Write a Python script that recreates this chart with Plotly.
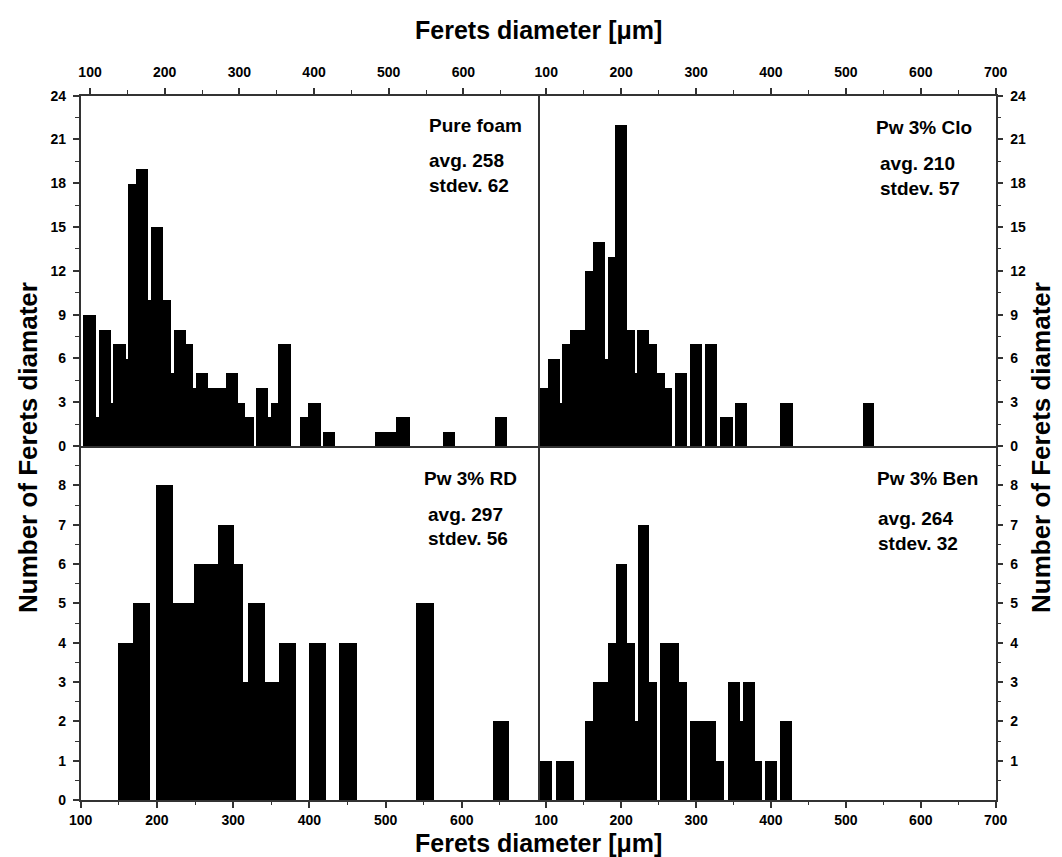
import plotly.graph_objects as go

# ---------------- data ----------------
# Each panel: bin edges (µm) and counts for each bin (0 = empty bin)
pure_edges = [90.6, 107.1, 111.6, 127.7, 130.8, 147.2, 150.8, 160.6, 177.6, 181.2, 197.7, 208, 212,
              227.5, 237.8, 240.9, 257.9, 281.6, 298, 307.8, 319, 321.6, 338.5, 341.8, 352, 368.6,
              381, 391.3, 408.7, 411.4, 428.3, 481.4, 509.5, 528.2, 572, 588.5, 642, 658.4]
pure_counts = [9, 2, 8, 3, 7, 6, 18, 19, 10, 15, 10, 5, 8, 7, 4, 5, 4, 5, 3, 2, 0, 4, 2, 3, 7, 0,
               2, 3, 0, 1, 0, 1, 2, 0, 1, 0, 2]

clo_edges = [91.1, 102.1, 117.7, 121.3, 131.5, 151.5, 162.1, 178.1, 182.1, 191.5, 208, 218.1, 221.3,
             237.7, 248, 258.1, 268, 271.5, 288, 292.5, 308, 312.4, 328, 332.4, 348.9, 352.4, 368,
             412.4, 428.8, 522.3, 538.1]
clo_counts = [4, 6, 3, 7, 8, 12, 14, 6, 13, 22, 8, 5, 8, 7, 5, 4, 0, 5, 0, 7, 0, 7, 0, 2, 0, 3, 0,
              3, 0, 3]

rd_edges = [148.1, 167.8, 190.5, 198, 220.7, 248.7, 279.3, 301.1, 312.1, 319.1, 341.8, 359.3, 382.5,
            398.8, 421.5, 438.5, 462.1, 540, 562.7, 640, 661.9]
rd_counts = [4, 5, 0, 8, 5, 6, 7, 6, 3, 5, 3, 4, 0, 4, 0, 4, 0, 5, 0, 2]

ben_edges = [91.5, 108, 112.4, 136.8, 151.5, 162.7, 182.7, 193.3, 208, 218.1, 222.1, 237.7, 248,
             252.4, 277.7, 288, 292.5, 327.1, 337.7, 342.1, 358.1, 362.1, 378.1, 388, 392.4, 408,
             412.4, 428]
ben_counts = [1, 0, 1, 0, 2, 3, 4, 6, 4, 2, 7, 3, 0, 4, 3, 0, 2, 1, 0, 3, 2, 3, 1, 0, 1, 0, 2]

panel_names = ["Pure foam", "Pw 3% Clo", "Pw 3% RD", "Pw 3% Ben"]
panel_avg = [258, 210, 297, 264]
panel_std = [62, 57, 56, 32]

x_ticks_left = [100, 200, 300, 400, 500, 600]
x_ticks_right = [100, 200, 300, 400, 500, 600, 700]
x_minor = [150, 250, 350, 450, 550, 650]
y_ticks_top = [0, 3, 6, 9, 12, 15, 18, 21, 24]
y_minor_top = [1.5, 4.5, 7.5, 10.5, 13.5, 16.5, 19.5, 22.5]
y_ticks_bottom_left = [0, 1, 2, 3, 4, 5, 6, 7, 8]
y_ticks_bottom_right = [1, 2, 3, 4, 5, 6, 7, 8]
y_minor_bottom = [0.5, 1.5, 2.5, 3.5, 4.5, 5.5, 6.5, 7.5, 8.5]

x_title = "Ferets diameter [μm]"
y_title = "Number of Ferets diamater"

# ---------------- layout geometry (pixels) ----------------
W, H = 1062, 857
L, M, R = 80.7, 538.0, 995.7
T, MID, B = 95.7, 446.0, 800.0


def fx(p):
    return p / W


def fy(p):
    return 1 - p / H


FONT = "Liberation Sans, Arial, Helvetica, sans-serif"
LINE = "#333333"

fig = go.Figure()


def add_hist(edges, counts, xa, ya):
    mids = [(a + b) / 2 for a, b in zip(edges[:-1], edges[1:])]
    widths = [b - a for a, b in zip(edges[:-1], edges[1:])]
    fig.add_trace(go.Bar(x=mids, y=counts, width=widths,
                         marker=dict(color="black", line=dict(width=0)),
                         xaxis=xa, yaxis=ya, showlegend=False, hoverinfo="x+y"))


add_hist(pure_edges, pure_counts, "x", "y")
add_hist(clo_edges, clo_counts, "x2", "y2")
add_hist(rd_edges, rd_counts, "x3", "y3")
add_hist(ben_edges, ben_counts, "x4", "y4")

common = dict(showline=True, linecolor=LINE, linewidth=1.5, automargin=False,
              ticks="outside", tickcolor=LINE, tickwidth=1.5, ticklen=6,
              showgrid=False, zeroline=False, tickmode="array",
              tickfont=dict(family=FONT, size=14, color="black", weight="bold"))


def minor(vals):
    return dict(tickmode="array", tickvals=vals, ticks="outside", ticklen=3.5,
                tickcolor=LINE, tickwidth=1.2)


fig.update_layout(
    width=W, height=H, margin=dict(l=0, r=0, t=0, b=0, pad=0, autoexpand=False),
    plot_bgcolor="white", paper_bgcolor="white", bargap=0, barmode="overlay",
    xaxis=dict(common, domain=[fx(L), fx(M)], anchor="y", side="top", range=[87.5, 700],
               mirror=True, tickvals=x_ticks_left, minor=minor(x_minor), ticklabelstandoff=5),
    yaxis=dict(common, domain=[fy(MID), fy(T)], anchor="x", side="left", range=[0, 24],
               mirror=True, tickvals=y_ticks_top, minor=minor(y_minor_top), ticklabelstandoff=4),
    xaxis2=dict(common, domain=[fx(M), fx(R)], anchor="y2", side="top", range=[89, 700],
                mirror=True, tickvals=x_ticks_right, minor=minor(x_minor), ticklabelstandoff=5),
    yaxis2=dict(common, domain=[fy(MID), fy(T)], anchor="x2", side="right", range=[0, 24],
                mirror=False, tickvals=y_ticks_top, minor=minor(y_minor_top), ticklabelstandoff=4),
    xaxis3=dict(common, domain=[fx(L), fx(M)], anchor="y3", side="bottom", range=[100, 700],
                mirror=False, tickvals=x_ticks_left, minor=minor(x_minor), ticklabelstandoff=0),
    yaxis3=dict(common, domain=[fy(B), fy(MID)], anchor="x3", side="left", range=[0, 9],
                mirror=True, tickvals=y_ticks_bottom_left, minor=minor(y_minor_bottom),
                ticklabelstandoff=4),
    xaxis4=dict(common, domain=[fx(M), fx(R)], anchor="y4", side="bottom", range=[89, 700],
                mirror=False, tickvals=x_ticks_right, minor=minor(x_minor), ticklabelstandoff=0),
    yaxis4=dict(common, domain=[fy(B), fy(MID)], anchor="x4", side="right", range=[0, 9],
                mirror=False, tickvals=y_ticks_bottom_right, minor=minor(y_minor_bottom),
                ticklabelstandoff=4),
)

ann = []
title_font = dict(family=FONT, size=26, color="black", weight="bold")
xtitle_font = dict(family=FONT, size=25, color="black", weight="bold")
ann.append(dict(text=x_title, x=fx(538), y=fy(30), xref="paper", yref="paper",
                showarrow=False, xanchor="center", yanchor="middle", font=xtitle_font))
ann.append(dict(text=x_title, x=fx(538), y=fy(843), xref="paper", yref="paper",
                showarrow=False, xanchor="center", yanchor="middle", font=xtitle_font))
ann.append(dict(text=y_title, x=fx(28), y=fy(448), xref="paper", yref="paper", textangle=-90,
                showarrow=False, xanchor="center", yanchor="middle", font=title_font))
ann.append(dict(text=y_title, x=fx(1041), y=fy(448), xref="paper", yref="paper", textangle=-90,
                showarrow=False, xanchor="center", yanchor="middle", font=title_font))

label_font = dict(family=FONT, size=19, color="black", weight="bold")
# (name x, name y, stats x, avg y, stdev y) in pixels
label_pos = [(427, 125, 427, 160, 185),
             (874, 127, 878, 164, 188),
             (422, 479, 426, 514, 538),
             (875, 478, 876, 518, 543)]
for name, avg, sd, (nx, ny, sx, ay, sy) in zip(panel_names, panel_avg, panel_std, label_pos):
    ann.append(dict(text=name, x=fx(nx), y=fy(ny), xref="paper", yref="paper", showarrow=False,
                    xanchor="left", yanchor="middle", font=label_font))
    ann.append(dict(text=f"avg. {avg}", x=fx(sx), y=fy(ay), xref="paper", yref="paper",
                    showarrow=False, xanchor="left", yanchor="middle", font=label_font))
    ann.append(dict(text=f"stdev. {sd}", x=fx(sx), y=fy(sy), xref="paper", yref="paper",
                    showarrow=False, xanchor="left", yanchor="middle", font=label_font))

fig.update_layout(annotations=ann)

fig.write_html("out.html", config={"displayModeBar": False},
               post_script="document.body.style.margin='0';document.body.style.overflow='hidden';")
